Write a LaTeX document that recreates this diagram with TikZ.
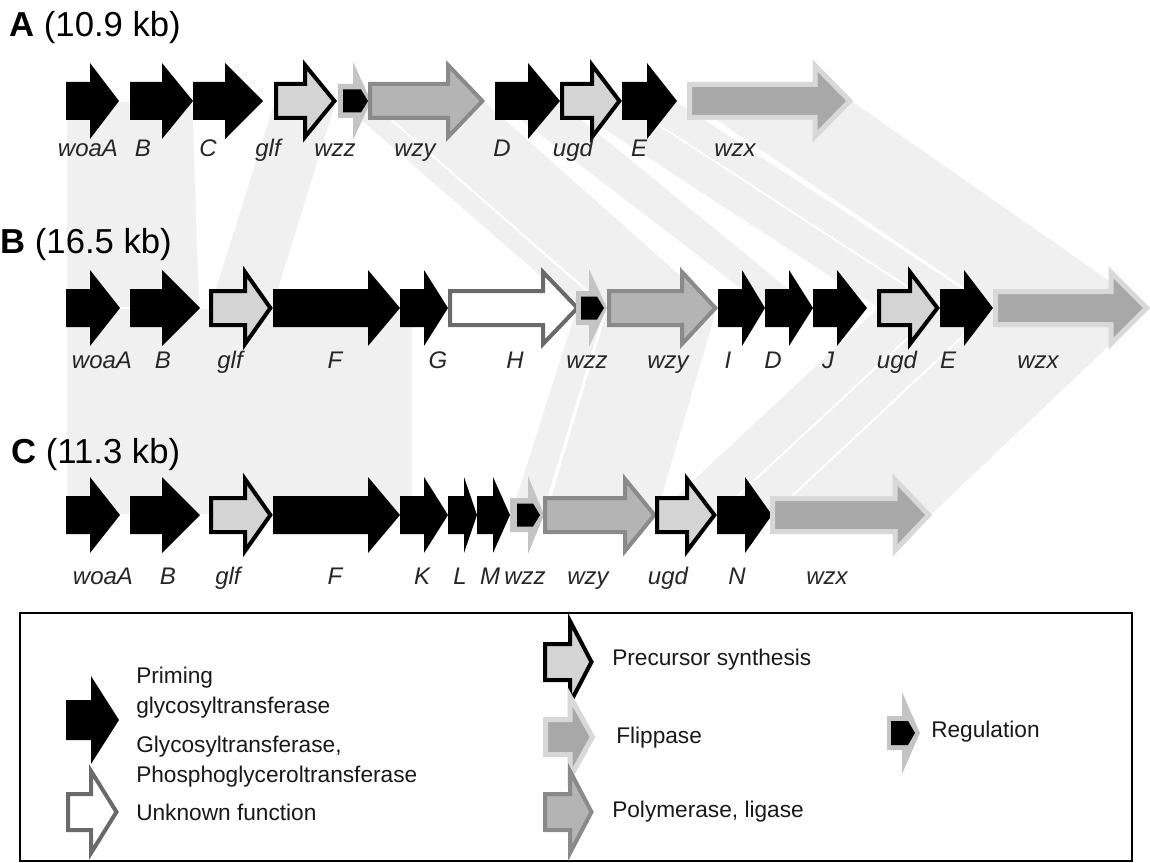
\documentclass[tikz,border=0pt]{standalone}
\usepackage{fontspec}
\setmainfont{Liberation Sans}
\definecolor{bandc}{HTML}{F0F0F0}
\definecolor{preG}{HTML}{D4D4D4}
\definecolor{unkO}{HTML}{6A6A6A}
\definecolor{polG}{HTML}{B4B4B4}
\definecolor{polO}{HTML}{8A8A8A}
\definecolor{flipG}{HTML}{A8A8A8}
\definecolor{flipO}{HTML}{D8D8D8}
\definecolor{regG}{HTML}{C4C4C4}
% generic gene arrow: style, x0, xhead, xtip, y, body half-height, head half-height
\newcommand\gArrow[7]{\path[#1] ({#2},{#5-#6}) -- ({#3},{#5-#6}) -- ({#3},{#5-#7}) -- ({#4},{#5}) -- ({#3},{#5+#7}) -- ({#3},{#5+#6}) -- ({#2},{#5+#6}) -- cycle;}
\newcommand\gBlk[4]{\gArrow{blkst}{#1}{#2}{#3}{#4}{19}{38}}
\newcommand\gPre[4]{\gArrow{prest}{#1+2}{#2}{#3-2.6}{#4}{17}{36}}
\newcommand\gUnk[4]{\gArrow{unkst}{#1+2}{#2}{#3-2.6}{#4}{17}{36}}
\newcommand\gPol[4]{\gArrow{polst}{#1+2}{#2}{#3-2.6}{#4}{17}{36}}
\newcommand\gFlip[4]{\gArrow{flipst}{#1+2.5}{#2}{#3-3.3}{#4}{16.5}{35.5}}
\newcommand\gReg[6]{\gArrow{regst}{#1}{#2}{#3}{#6}{17}{39}\gArrow{blkst}{#4}{#5-7}{#5}{#6}{11.5}{11.5}}
\newcommand\gBand[6]{\path[bandst] ({#1},{#5}) -- ({#2},{#5}) -- ({#4},{#6}) -- ({#3},{#6}) -- cycle;}
\begin{document}
\begin{tikzpicture}[x=0.75pt,y=-0.75pt,line join=miter,
  bandst/.style={fill=bandc,draw=white,line width=1.2pt},
  blkst/.style={fill=black},
  prest/.style={fill=preG,draw=black,line width=3pt},
  unkst/.style={fill=white,draw=unkO,line width=3pt},
  polst/.style={fill=polG,draw=polO,line width=3pt},
  flipst/.style={fill=flipG,draw=flipO,line width=3.75pt},
  regst/.style={fill=regG},
  gl/.style={font=\itshape\fontsize{18}{18}\selectfont,inner sep=0pt,anchor=base,text=black!85},
  tl/.style={font=\fontsize{26}{26}\selectfont,inner sep=0pt,anchor=west},
  lt/.style={font=\fontsize{17}{22.5}\selectfont,inner sep=0pt,anchor=west,align=left,text=black!90}]
\useasboundingbox (0,0) rectangle (1150,863);
\fill[white] (0,0) rectangle (1150,863);

% ---- homology bands A -> B
\gBand{66}{193}{66}{200}{101}{308}
\gBand{274}{337}{209}{273}{101}{308}
\gBand{338}{370}{576}{606}{101}{308}
\gBand{370}{485}{607}{718}{101}{308}
\gBand{495}{560}{765}{813}{101}{308}
\gBand{560}{622}{877}{940}{101}{308}
\gBand{622}{677}{940}{993}{101}{308}
\gBand{687}{853}{993}{1150}{101}{308}
% ---- homology bands B -> C
\gBand{66}{413}{66}{413}{308}{515}
\gBand{576}{606}{510}{543}{308}{515}
\gBand{607}{718}{545}{657}{308}{515}
\gBand{877}{940}{655}{717}{308}{515}
\gBand{940}{993}{717}{772}{308}{515}
\gBand{993}{1150}{772}{932}{308}{515}

% ---- titles
\node[tl] (tA) at (9,28) {\textbf{A} (10.9 kb)};
\node[tl] (tB) at (0,245) {\textbf{B} (16.5 kb)};
\node[tl] (tC) at (11,455) {\textbf{C} (11.3 kb)};

% ---- row A
\gBlk{66}{90}{119}{101}
\gBlk{130}{162}{193}{101}
\gBlk{193}{225}{263}{101}
\gPre{274}{305}{337}{101}
\gReg{338}{353}{371}{343}{368}{101}
\gPol{368}{448}{485}{101}
\gBlk{495}{528}{560}{101}
\gPre{560}{592}{622}{101}
\gBlk{622}{647}{677}{101}
\gFlip{687}{815}{853}{101}
\node[gl] (a1) at (88,157) {woaA};
\node[gl] (a2) at (143,157) {B};
\node[gl] (a3) at (208,157) {C};
\node[gl] (a4) at (268,157) {glf};
\node[gl] (a5) at (335,157) {wzz};
\node[gl] (a6) at (415,157) {wzy};
\node[gl] (a7) at (502,157) {D};
\node[gl] (a8) at (573,157) {ugd};
\node[gl] (a9) at (639,157) {E};
\node[gl] (a10) at (735,157) {wzx};

% ---- row B
\gBlk{66}{90}{120}{308}
\gBlk{130}{162}{200}{308}
\gPre{209}{245}{273}{308}
\gBlk{273}{368}{400}{308}
\gBlk{400}{424}{448}{308}
\gUnk{448}{543}{580}{308}
\gReg{576}{589}{607}{581}{604}{308}
\gPol{607}{682}{718}{308}
\gBlk{718}{742}{765}{308}
\gBlk{765}{789}{813}{308}
\gBlk{813}{837}{867}{308}
\gPre{877}{910}{940}{308}
\gBlk{940}{964}{993}{308}
\gFlip{993}{1111}{1150}{308}
\node[gl] (b1) at (102,368) {woaA};
\node[gl] (b2) at (163,368) {B};
\node[gl] (b3) at (230,368) {glf};
\node[gl] (b4) at (335,368) {F};
\node[gl] (b5) at (438,368) {G};
\node[gl] (b6) at (515,368) {H};
\node[gl] (b7) at (587,368) {wzz};
\node[gl] (b8) at (668,368) {wzy};
\node[gl] (b9) at (728,368) {I};
\node[gl] (b10) at (773,368) {D};
\node[gl] (b11) at (828,368) {J};
\node[gl] (b12) at (897,368) {ugd};
\node[gl] (b13) at (948,368) {E};
\node[gl] (b14) at (1038,368) {wzx};

% ---- row C
\gBlk{66}{90}{120}{515}
\gBlk{130}{162}{200}{515}
\gPre{209}{245}{273}{515}
\gBlk{273}{368}{400}{515}
\gBlk{400}{424}{448}{515}
\gBlk{448}{464}{477}{515}
\gBlk{477}{493}{510}{515}
\gReg{510}{528}{544}{517}{540}{515}
\gPol{543}{625}{657}{515}
\gPre{655}{687}{717}{515}
\gBlk{717}{745}{772}{515}
\gFlip{770}{895}{932}{515}
\node[gl] (c1) at (103,584) {woaA};
\node[gl] (c2) at (168,584) {B};
\node[gl] (c3) at (228,584) {glf};
\node[gl] (c4) at (335,584) {F};
\node[gl] (c5) at (422,584) {K};
\node[gl] (c6) at (460,584) {L};
\node[gl] (c7) at (490,584) {M};
\node[gl] (c8) at (525,584) {wzz};
\node[gl] (c9) at (588,584) {wzy};
\node[gl] (c10) at (668,584) {ugd};
\node[gl] (c11) at (737,584) {N};
\node[gl] (c12) at (827,584) {wzx};

% ---- legend
\draw[line width=2.2pt] (20,613) rectangle (1132,861);
\gArrow{blkst}{66}{91}{119}{720}{20}{44}
\node[lt] (l1) at (136,693) {Priming\\glycosyltransferase};
\node[lt] (l2) at (136,762) {Glycosyltransferase,\\Phosphoglyceroltransferase};
\gArrow{unkst}{68}{91}{116.5}{812}{18}{41}
\node[lt] (l3) at (136,812) {Unknown function};
\gArrow{prest}{545}{570}{591.5}{662}{18}{41}
\node[lt] (l4) at (612,660) {Precursor synthesis};
\gArrow{flipst}{545.5}{570}{592.5}{737}{17.5}{40.5}
\node[lt] (l5) at (616,738) {Flippase};
\gArrow{polst}{545}{570}{591.5}{812}{18}{41}
\node[lt] (l6) at (612,812) {Polymerase, ligase};
\gArrow{regst}{887}{902}{920}{733}{17}{41}
\gArrow{blkst}{891}{908}{915}{733}{12}{12}
\node[lt] (l7) at (931,732) {Regulation};
\end{tikzpicture}
\end{document}
